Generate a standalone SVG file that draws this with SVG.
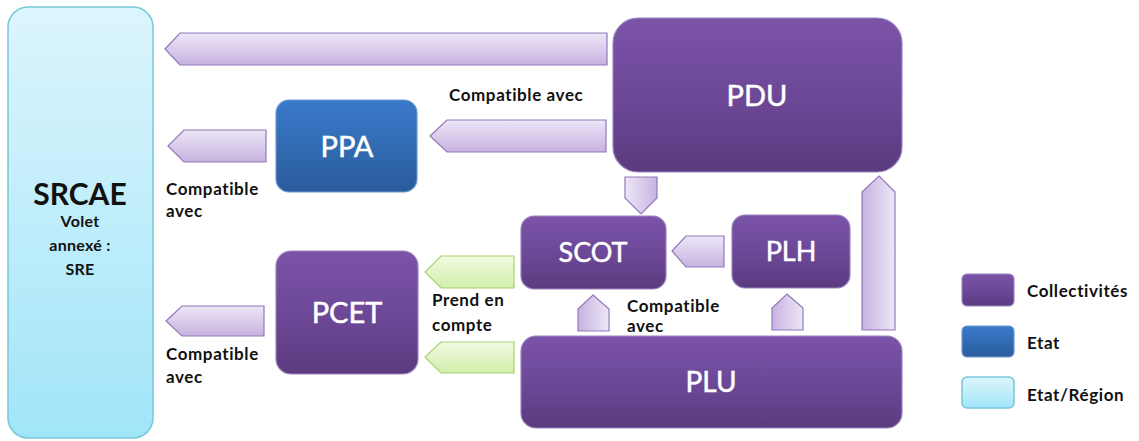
<svg xmlns="http://www.w3.org/2000/svg" width="1139" height="441" viewBox="0 0 1139 441">
  <defs>
    <linearGradient id="gPurple" x1="0" y1="0" x2="0" y2="1">
      <stop offset="0" stop-color="#7b53a8"/>
      <stop offset="0.5" stop-color="#6d4898"/>
      <stop offset="1" stop-color="#5b3b7f"/>
    </linearGradient>
    <linearGradient id="gBlue" x1="0" y1="0" x2="0" y2="1">
      <stop offset="0" stop-color="#3a7acb"/>
      <stop offset="1" stop-color="#2a5c9b"/>
    </linearGradient>
    <linearGradient id="gCyan" x1="0" y1="0" x2="0" y2="1">
      <stop offset="0" stop-color="#dcf5fc"/>
      <stop offset="1" stop-color="#a2e5f9"/>
    </linearGradient>
    <linearGradient id="gArrowH" x1="0" y1="0" x2="0" y2="1">
      <stop offset="0" stop-color="#ede6f7"/>
      <stop offset="1" stop-color="#c7b3e0"/>
    </linearGradient>
    <linearGradient id="gArrowUp" x1="0" y1="0" x2="1" y2="0">
      <stop offset="0" stop-color="#c7b3e0"/>
      <stop offset="1" stop-color="#ede6f7"/>
    </linearGradient>
    <linearGradient id="gArrowDown" x1="0" y1="0" x2="1" y2="0">
      <stop offset="0" stop-color="#ede6f7"/>
      <stop offset="1" stop-color="#c7b3e0"/>
    </linearGradient>
    <linearGradient id="gGreen" x1="0" y1="0" x2="0" y2="1">
      <stop offset="0" stop-color="#f2fbe2"/>
      <stop offset="1" stop-color="#d2eeab"/>
    </linearGradient>
  </defs>
  <style>
    .purple { fill: url(#gPurple); stroke: #9c84bf; stroke-width: 1.2; }
    .blue { fill: url(#gBlue); stroke: #6d98d0; stroke-width: 1.2; }
    .cyan { fill: url(#gCyan); stroke: #78c6da; stroke-width: 1.5; }
    .arrH { fill: url(#gArrowH); stroke: #9279ba; stroke-width: 1.2; }
    .arrUp { fill: url(#gArrowUp); stroke: #9279ba; stroke-width: 1.2; }
    .arrDown { fill: url(#gArrowDown); stroke: #9279ba; stroke-width: 1.2; }
    .arrG { fill: url(#gGreen); stroke: #a9d26f; stroke-width: 1.2; }
    .node { font-family: Lato, "Open Sans", "Liberation Sans", sans-serif; fill: #ffffff; stroke: #ffffff; stroke-width: 0.5; text-anchor: middle; }
    .lbl { font-family: Lato, "Open Sans", "Liberation Sans", sans-serif; font-weight: bold; font-size: 17px; letter-spacing: 0.6px; fill: #111111; }
    .sub { font-family: Lato, "Open Sans", "Liberation Sans", sans-serif; font-weight: bold; font-size: 16px; letter-spacing: 0.3px; fill: #111111; text-anchor: middle; }
  </style>

  <!-- SRCAE (Etat/Région) -->
  <g id="srcae">
    <rect class="cyan" x="8" y="7" width="145" height="431" rx="20"/>
    <text x="80" y="205" font-family="Lato, 'Open Sans', 'Liberation Sans', sans-serif" font-weight="bold" font-size="30" fill="#111" text-anchor="middle">SRCAE</text>
    <text class="sub" x="80" y="227">Volet</text>
    <text class="sub" x="80" y="251">annexé :</text>
    <text class="sub" x="80" y="275">SRE</text>
  </g>

  <!-- PDU -->
  <g id="pdu">
    <rect class="purple" x="613" y="18" width="289" height="154" rx="25"/>
    <text class="node" x="757" y="106" font-size="29">PDU</text>
  </g>

  <!-- PPA -->
  <g id="ppa">
    <rect class="blue" x="276" y="100" width="141" height="92" rx="13"/>
    <text class="node" x="347" y="157" font-size="29">PPA</text>
  </g>

  <!-- PCET -->
  <g id="pcet">
    <rect class="purple" x="276" y="251" width="142" height="123" rx="15"/>
    <text class="node" x="347" y="323" font-size="29">PCET</text>
  </g>

  <!-- SCOT -->
  <g id="scot">
    <rect class="purple" x="521" y="216" width="145" height="73" rx="13"/>
    <text class="node" x="593" y="262" font-size="27">SCOT</text>
  </g>

  <!-- PLH -->
  <g id="plh">
    <rect class="purple" x="732" y="215" width="118" height="73" rx="13"/>
    <text class="node" x="791" y="261" font-size="27">PLH</text>
  </g>

  <!-- PLU -->
  <g id="plu">
    <rect class="purple" x="521" y="336" width="381" height="92" rx="15"/>
    <text class="node" x="711" y="392" font-size="28">PLU</text>
  </g>

  <!-- Block arrows -->
  <g id="connectors">
    <!-- PDU -> SRCAE -->
    <polygon class="arrH" points="165,49 180,33 607,33 607,65 180,65"/>
    <!-- PDU -> PPA -->
    <polygon class="arrH" points="430,136 447,120 606,120 606,152 447,152"/>
    <!-- PPA -> SRCAE -->
    <polygon class="arrH" points="168,146 184,130 266,130 266,162 184,162"/>
    <!-- PCET -> SRCAE -->
    <polygon class="arrH" points="166,321 182,306 264,306 264,336 182,336"/>
    <!-- PDU -> SCOT -->
    <polygon class="arrDown" points="625,177 657,177 657,198 641,214 625,198"/>
    <!-- PLH -> SCOT -->
    <polygon class="arrH" points="672,251 686,236 724,236 724,267 686,267"/>
    <!-- PLU -> SCOT -->
    <polygon class="arrUp" points="593,295 609,309 609,331 578,331 578,309"/>
    <!-- PLU -> PLH -->
    <polygon class="arrUp" points="787,294 803,308 803,330 772,330 772,308"/>
    <!-- PLU -> PDU -->
    <polygon class="arrUp" points="879,176 895,192 895,330 862,330 862,192"/>
    <!-- SCOT -> PCET -->
    <polygon class="arrG" points="425,272 441,256 514,256 514,288 441,288"/>
    <!-- PLU -> PCET -->
    <polygon class="arrG" points="425,357 441,342 514,342 514,373 441,373"/>
  </g>

  <!-- Link labels -->
  <g id="labels">
    <text class="lbl" x="449" y="101">Compatible avec</text>
    <text class="lbl" x="166" y="195">Compatible</text>
    <text class="lbl" x="166" y="217">avec</text>
    <text class="lbl" x="432" y="306">Prend en</text>
    <text class="lbl" x="432" y="331">compte</text>
    <text class="lbl" x="627" y="312">Compatible</text>
    <text class="lbl" x="627" y="332">avec</text>
    <text class="lbl" x="166" y="360">Compatible</text>
    <text class="lbl" x="166" y="383">avec</text>
  </g>

  <!-- Legend -->
  <g id="legend">
    <rect class="purple" x="962" y="274" width="52" height="32" rx="5"/>
    <text class="lbl" x="1027" y="297">Collectivités</text>
    <rect class="blue" x="962" y="326" width="52" height="31" rx="5"/>
    <text class="lbl" x="1027" y="349">Etat</text>
    <rect class="cyan" x="962" y="377" width="52" height="31" rx="5"/>
    <text class="lbl" x="1027" y="401">Etat/Région</text>
  </g>
</svg>
